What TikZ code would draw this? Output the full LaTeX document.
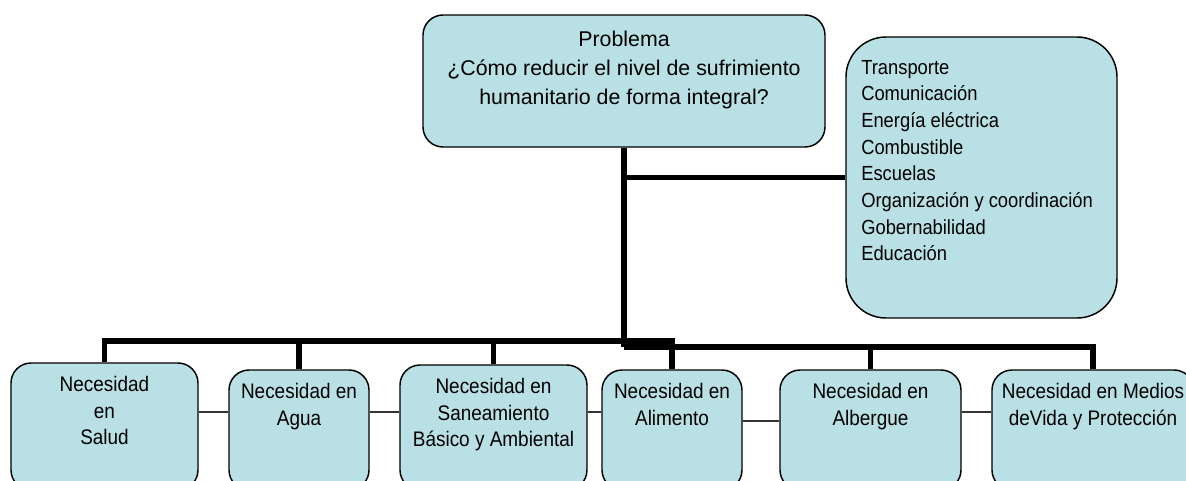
\documentclass[tikz,border=0pt]{standalone}
\usepackage{fontspec}
\setmainfont{Liberation Sans}
\newfontfamily\tallfont[FakeStretch=0.9]{Liberation Sans}
\usetikzlibrary{positioning}
\definecolor{boxfill}{RGB}{185,224,228}
\tikzset{
  needbox/.style={draw, line width=1.1pt, fill=boxfill, rounded corners=15pt, inner sep=0pt},
  needtxt/.style={inner sep=0pt, align=center, font=\tallfont\fontsize{15.8pt}{19.9pt}\selectfont},
  trunk/.style={line width=4pt},
  link/.style={line width=1pt, draw=black!80}
}
\begin{document}
\begin{tikzpicture}[x=0.75pt,y=-0.75pt]
    \useasboundingbox (0,0) rectangle (1186,480);
    \clip (0,0) rectangle (1186,480);
    % problema
    \node[needbox, minimum width=402*0.75pt, minimum height=132*0.75pt] (prob) at (624,81) {};
    \node[needtxt, font=\rmfamily\fontsize{16pt}{21.4pt}\selectfont, below=12.75pt of prob.north] (probtxt)
        {Problema\\¿Cómo reducir el nivel de sufrimiento\\humanitario de forma integral?};
    % infraestructura
    \node[needbox, rounded corners=30pt, minimum width=271*0.75pt, minimum height=281*0.75pt] (infra) at (981.5,177.5) {};
    \node[needtxt, align=left, anchor=north west, font=\tallfont\fontsize{15.3pt}{20pt}\selectfont] (infratxt) at (861,60)
        {Transporte\\Comunicación\\Energía eléctrica\\Combustible\\Escuelas\\Organización y coordinación\\Gobernabilidad\\Educación};
    % necesidades
    \foreach \name/\cx/\top/\w/\txt in {
        salud/104.5/363/187/{Necesidad\\en\\Salud},
        agua/299/370/140/{Necesidad en\\Agua},
        saneam/493.5/365/187/{Necesidad en\\Saneamiento\\Básico y Ambiental},
        alimento/672/370/140/{Necesidad en\\Alimento},
        albergue/870.5/370/181/{Necesidad en\\Albergue},
        medios/1093/370/202/{Necesidad en Medios\\deVida y Protección}} {
        \node[needbox, minimum width=\w*0.75pt, minimum height={(490-\top)*0.75pt}] (\name) at (\cx,{(\top+490)/2}) {};
        \node[needtxt, below=10.5pt of \name.north] (\name txt) {\txt};
    }
    % tronco y ramas
    \coordinate (lbus) at (0,341);
    \coordinate (rbus) at (0,347);
    \coordinate (hub) at (prob.south |- rbus);
    \draw[trunk] (prob.south) -- (hub);
    \draw[trunk] (prob.south |- infra.west) -- (infra.west);
    \draw[trunk] (salud.north) |- (alimento.north |- lbus) -- (alimento.north);
    \draw[trunk] (agua.north) -- (agua.north |- lbus);
    \draw[trunk] (saneam.north) -- (saneam.north |- lbus);
    \draw[trunk] (hub) -| (medios.north);
    \draw[trunk] (albergue.north) -- (albergue.north |- rbus);
    % enlaces finos
    \coordinate (lk) at (0,412);
    \coordinate (lk2) at (0,421);
    \draw[link] (salud.east |- lk) -- (agua.west |- lk);
    \draw[link] (agua.east |- lk) -- (saneam.west |- lk);
    \draw[link] (saneam.east |- lk) -- (alimento.west |- lk);
    \draw[link] (alimento.east |- lk2) -- (albergue.west |- lk2);
    \draw[link] (albergue.east |- lk) -- (medios.west |- lk);
\end{tikzpicture}
\end{document}
